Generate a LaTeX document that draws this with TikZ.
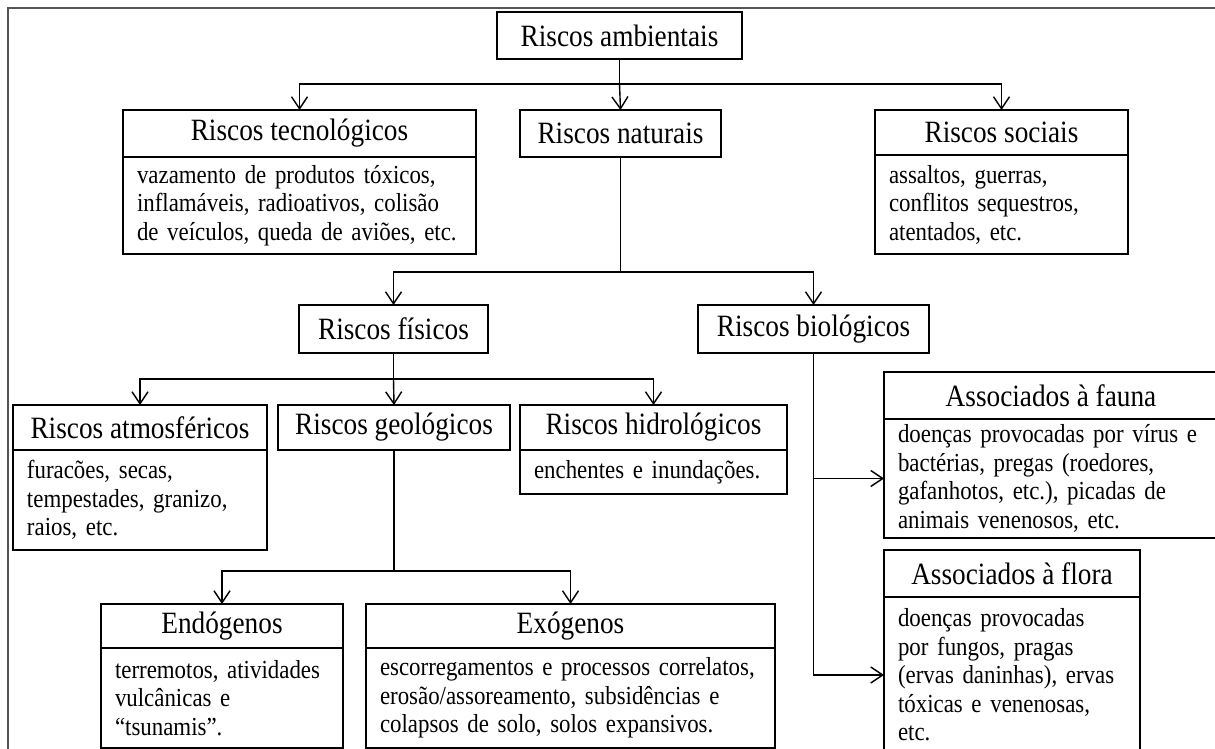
\documentclass[tikz,border=0pt]{standalone}
\usepackage{fontspec}
\setmainfont{Liberation Serif}[FakeStretch=0.88]
\usepackage{tikz}
\usetikzlibrary{arrows.meta,positioning}
\definecolor{framegray}{HTML}{555555}

\begin{document}
\begin{tikzpicture}[
      x=1pt, y=-1pt,
      hd/.style={draw, line width=1.6pt, outer sep=0pt, inner sep=0pt, anchor=north west,
                 font=\fontsize{31}{34}\selectfont},
      txt/.style={draw, line width=1.6pt, outer sep=0pt, inner xsep=14pt, inner ysep=0pt,
                  anchor=north west, align=left, font=\fontsize{26}{28.5}\selectfont},
      ln/.style={line width=1.4pt},
      arr/.style={-{Straight Barb[length=12pt,width=16pt]}, line width=1.4pt}
    ]
    \useasboundingbox (0,0) rectangle (1215,749);
    \draw[framegray, line width=2pt] (8,8) rectangle (1300,900);

    \node[hd, minimum width=245pt, minimum height=47pt] (amb) at (497,12) {Riscos ambientais};
    \node[hd, minimum width=353pt, minimum height=47pt] (tec) at (123,110) {Riscos tecnológicos};
    \node[txt, minimum width=353pt, minimum height=97pt, text width=325pt] (tecTxt) at (tec.south west)
      {vazamento de produtos tóxicos,\\inflamáveis, radioativos, colisão\\de veículos, queda de aviões, etc.};
    \node[hd, minimum width=201pt, minimum height=47pt] (nat) at (520,110) {Riscos naturais};
    \node[hd, minimum width=253pt, minimum height=45pt] (soc) at (875,110) {Riscos sociais};
    \node[txt, minimum width=253pt, minimum height=99pt, text width=225pt] (socTxt) at (soc.south west)
      {assaltos, guerras,\\conflitos sequestros,\\atentados, etc.};

    \node[hd, minimum width=189pt, minimum height=48pt] (fis) at (299,305) {Riscos físicos};
    \node[hd, minimum width=231pt, minimum height=48pt] (bio) at (698,305) {Riscos biológicos};

    \node[hd, minimum width=254pt, minimum height=45pt] (atm) at (13,405) {Riscos atmosféricos};
    \node[txt, minimum width=254pt, minimum height=100pt, text width=226pt] (atmTxt) at (atm.south west)
      {furacões, secas,\\tempestades, granizo,\\raios, etc.};
    \node[hd, minimum width=232pt, minimum height=45pt] (geo) at (278,405) {Riscos geológicos};
    \node[hd, minimum width=267pt, minimum height=45pt] (hid) at (520,405) {Riscos hidrológicos};
    \node[txt, minimum width=267pt, minimum height=44pt, text width=239pt] (hidTxt) at (hid.south west)
      {enchentes e inundações.};

    \node[hd, minimum width=242pt, minimum height=44pt] (endo) at (101,604) {Endógenos};
    \node[txt, minimum width=242pt, minimum height=100pt, text width=214pt] (endoTxt) at (endo.south west)
      {terremotos, atividades\\vulcânicas e\\“tsunamis”.};
    \node[hd, minimum width=409pt, minimum height=44pt] (exo) at (366,604) {Exógenos};
    \node[txt, minimum width=409pt, minimum height=100pt, text width=381pt] (exoTxt) at (exo.south west)
      {escorregamentos e processos correlatos,\\erosão/assoreamento, subsidências e\\colapsos de solo, solos expansivos.};

    \node[hd, minimum width=334pt, minimum height=47pt] (fau) at (884,372) {Associados à fauna};
    \node[txt, minimum width=334pt, minimum height=119pt, text width=306pt] (fauTxt) at (fau.south west)
      {doenças provocadas por vírus e\\bactérias, pregas (roedores,\\gafanhotos, etc.), picadas de\\animais venenosos, etc.};
    \node[hd, minimum width=256pt, minimum height=47pt] (flo) at (884,550) {Associados à flora};
    \node[txt, minimum width=256pt, minimum height=156pt, text width=228pt] (floTxt) at (flo.south west)
      {doenças provocadas\\por fungos, pragas\\(ervas daninhas), ervas\\tóxicas e venenosas,\\etc.};

    \draw[ln] (amb.south) -- ++(0,25) coordinate (j1);
    \draw[arr] (j1) -| (tec.north); \draw[arr] (j1) -- (nat.north); \draw[arr] (j1) -| (soc.north);
    \draw[ln] (nat.south) -- ++(0,115) coordinate (j2);
    \draw[arr] (j2) -| (fis.north); \draw[arr] (j2) -| (bio.north);
    \draw[ln] (fis.south) -- ++(0,26) coordinate (j3);
    \draw[arr] (j3) -| (atm.north); \draw[arr] (j3) -- (geo.north); \draw[arr] (j3) -| (hid.north);
    \draw[ln] (geo.south) -- ++(0,121) coordinate (j4);
    \draw[arr] (j4) -| (endo.north); \draw[arr] (j4) -| (exo.north);
    \draw[arr] (bio.south) |- (floTxt.west);
    \draw[arr] (bio.south |- fauTxt.west) -- (fauTxt.west);
  \end{tikzpicture}
\end{document}
